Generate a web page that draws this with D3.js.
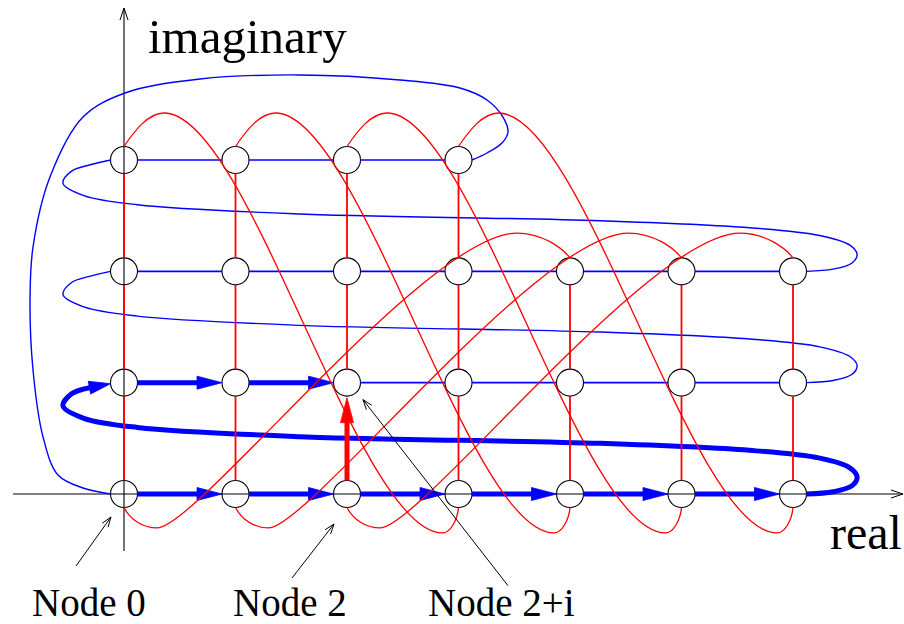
<!DOCTYPE html>
<html>
<head>
<meta charset="utf-8">
<script src="https://cdn.jsdelivr.net/npm/d3@7"></script>
<style>
  html, body { margin: 0; padding: 0; background: #fff; }
  svg { display: block; }
  text { font-family: "Liberation Serif", "Times New Roman", serif; fill: #000; }
</style>
</head>
<body>
<svg id="chart" width="904" height="624"></svg>
<script>
// Nodes of the complex grid: column = real part, row = imaginary part
const rowLengths = [7, 7, 7, 4];

// Real-direction edges drawn bold with arrowheads: [column, row] of the source node
const boldRealEdges = [[0, 0], [1, 0], [2, 0], [3, 0], [4, 0], [5, 0], [0, 1], [1, 1]];

// Imaginary-direction edge drawn as a bold red arrow: [column, row]
const boldImagEdge = [2, 0];

// Wrap-around imaginary links: [fromCol, fromRow, toCol, toRow]
const wrapDown = [[0, 3, 3, 0], [1, 3, 4, 0], [2, 3, 5, 0], [3, 3, 6, 0]];
const wrapUp = [[0, 0, 4, 2], [1, 0, 5, 2], [2, 0, 6, 2]];

// Return path from the end of a row back to the start of the next row
// (grid units: absolute column, row offset above the source row)
const returnLoop = [
  [6.36, 0.02], [6.53, 0.075], [6.575, 0.153], [6.51, 0.235], [6.24, 0.322],
  [5.61, 0.392], [4.27, 0.455], [1.58, 0.515], [0.12, 0.598], [-0.36, 0.68],
  [-0.547, 0.79], [-0.47, 0.9], [-0.31, 0.955]
];

// Closing path from the last node of the top row back to node 0 (grid units)
const closingLoop = [
  [3.256, 3.063], [3.39, 3.153], [3.444, 3.252], [3.399, 3.386], [3.256, 3.539],
  [3.013, 3.647], [2.475, 3.719], [1.578, 3.764], [0.682, 3.728], [0.009, 3.602],
  [-0.368, 3.386], [-0.664, 2.847], [-0.816, 2.219], [-0.843, 1.743], [-0.816, 1.114],
  [-0.726, 0.512], [-0.592, 0.171], [-0.368, 0.054]
];

const axisLabels = { real: "real", imag: "imaginary" };
const nodeLabels = [
  { text: "Node 0", col: 0, row: 0 },
  { text: "Node 2", col: 2, row: 0 },
  { text: "Node 2+i", col: 2, row: 1 }
];

// ---------------------------------------------------------------------------
const svg = d3.select("#chart");
const x = d3.scaleLinear().domain([0, 6]).range([124, 793]);
const y = d3.scaleLinear().domain([0, 3]).range([494, 160]);
const R = 13.5;
const BLUE = "#0000ff", RED = "#ff0000";

const nodes = [];
rowLengths.forEach((n, r) => d3.range(n).forEach(c => nodes.push({ c, r })));
const hasNode = (c, r) => r >= 0 && r < rowLengths.length && c >= 0 && c < rowLengths[r];
const isBoldReal = (c, r) => boldRealEdges.some(e => e[0] === c && e[1] === r);

const smooth = d3.line().curve(d3.curveCatmullRom.alpha(0.5));

function filledHead(g, base, tip, width, color) {
  const dx = tip[0] - base[0], dy = tip[1] - base[1];
  const len = Math.hypot(dx, dy);
  const nx = -dy / len * width / 2, ny = dx / len * width / 2;
  g.append("path")
    .attr("d", `M${base[0] + nx},${base[1] + ny}L${tip[0]},${tip[1]}L${base[0] - nx},${base[1] - ny}Z`)
    .attr("fill", color).attr("stroke", color).attr("stroke-width", 0.8);
}

function openHead(g, from, tip, len, half) {
  const dx = tip[0] - from[0], dy = tip[1] - from[1];
  const L = Math.hypot(dx, dy);
  const ux = dx / L, uy = dy / L;
  const bx = tip[0] - ux * len, by = tip[1] - uy * len;
  g.append("path")
    .attr("d", `M${bx - uy * half},${by + ux * half}L${tip[0]},${tip[1]}L${bx + uy * half},${by - ux * half}`)
    .attr("fill", "none").attr("stroke", "#000").attr("stroke-width", 1);
}

// Layers: nodes first so the axes show through them, links on top of the axes
const gNodes = svg.append("g");
const gAxes = svg.append("g");
const gBlue = svg.append("g");
const gRed = svg.append("g");
const gWrap = svg.append("g");
const gNotes = svg.append("g");

// Real-direction edges along each row
const HEAD_L = 25, HEAD_W = 13;
nodes.filter(d => hasNode(d.c + 1, d.r)).forEach(d => {
  const x1 = x(d.c) + R, x2 = x(d.c + 1) - R, yy = y(d.r);
  if (isBoldReal(d.c, d.r)) {
    gBlue.append("line")
      .attr("x1", x1).attr("y1", yy).attr("x2", x2 - HEAD_L + 3).attr("y2", yy)
      .attr("stroke", BLUE).attr("stroke-width", 5);
    filledHead(gBlue, [x2 - HEAD_L, yy], [x2, yy], HEAD_W, BLUE);
  } else {
    gBlue.append("line")
      .attr("x1", x1).attr("y1", yy).attr("x2", x2).attr("y2", yy)
      .attr("stroke", BLUE).attr("stroke-width", 1.6);
  }
});

// Return loops from the end of each full row to the start of the next
[0, 1, 2].forEach(r => {
  const last = rowLengths[r] - 1;
  const start = [x(last) + R, y(r)];
  const pts = [start].concat(returnLoop.map(p => [x(p[0]), y(r + p[1])]));
  const bold = r === 0;
  const tip = [x(0) - R, y(r + 1)];
  if (!bold) pts.push(tip);
  gBlue.append("path")
    .attr("d", smooth(pts))
    .attr("fill", "none").attr("stroke", BLUE)
    .attr("stroke-width", bold ? 5 : 1.4);
  if (bold) filledHead(gBlue, pts[pts.length - 1], [tip[0], tip[1] + 1], HEAD_W, BLUE);
});

// Closing loop from the last node back to node 0
{
  const top = rowLengths.length - 1;
  const pts = [[x(rowLengths[top] - 1) + R, y(top)]]
    .concat(closingLoop.map(p => [x(p[0]), y(p[1])]))
    .concat([[x(0) - R, y(0)]]);
  gBlue.append("path")
    .attr("d", smooth(pts))
    .attr("fill", "none").attr("stroke", BLUE).attr("stroke-width", 1.4);
}

// Imaginary-direction edges within each column
nodes.filter(d => hasNode(d.c, d.r + 1)).forEach(d => {
  const xx = x(d.c), y1 = y(d.r) - R, y2 = y(d.r + 1) + R;
  if (d.c === boldImagEdge[0] && d.r === boldImagEdge[1]) {
    gRed.append("line")
      .attr("x1", xx).attr("y1", y1).attr("x2", xx).attr("y2", y2 + 1.5 + HEAD_L - 3)
      .attr("stroke", RED).attr("stroke-width", 5);
    filledHead(gRed, [xx, y2 + 1.5 + HEAD_L], [xx, y2 + 1.5], HEAD_W, RED);
  } else {
    gRed.append("line")
      .attr("x1", xx).attr("y1", y1).attr("x2", xx).attr("y2", y2)
      .attr("stroke", RED).attr("stroke-width", 1.8);
  }
});

// Nodes
gNodes.selectAll("circle").data(nodes).join("circle")
  .attr("cx", d => x(d.c)).attr("cy", d => y(d.r)).attr("r", R)
  .attr("fill", "#fff").attr("stroke", "#000").attr("stroke-width", 1.1);

// Wrap-around imaginary links from the top row down to the real axis
wrapDown.forEach(([c0, r0, c1, r1]) => {
  const S = [x(c0), y(r0) - R];
  const P = [x(c0) + 40, y(3.422)];
  const T = [x(c1) - 16, y(-0.35)];
  const E = [x(c1), y(r1) + R];
  const p = d3.path();
  p.moveTo(S[0], S[1]);
  p.bezierCurveTo(S[0] + 10, S[1] - 15, P[0] - 16, P[1], P[0], P[1]);
  p.bezierCurveTo(P[0] + 85, P[1], T[0] - 85, T[1], T[0], T[1]);
  p.bezierCurveTo(T[0] + 8, T[1], E[0] - 1, E[1] + 12, E[0], E[1]);
  gWrap.append("path").attr("d", p.toString())
    .attr("fill", "none").attr("stroke", RED).attr("stroke-width", 1.3);
});

// Wrap-around imaginary links from the real axis up to the third row
wrapUp.forEach(([c0, r0, c1, r1]) => {
  const S = [x(c0), y(r0) + R];
  const T = [x(c0) + 33, y(-0.305)];
  const P = [x(c1) - 53, y(2.344)];
  const E = [x(c1), y(r1) - R];
  const p = d3.path();
  p.moveTo(S[0], S[1]);
  p.bezierCurveTo(S[0] + 6, S[1] + 12, T[0] - 14, T[1], T[0], T[1]);
  p.bezierCurveTo(T[0] + 40, T[1], P[0] - 90, P[1], P[0], P[1]);
  p.bezierCurveTo(P[0] + 25, P[1], E[0] - 8, E[1] - 10, E[0], E[1]);
  gWrap.append("path").attr("d", p.toString())
    .attr("fill", "none").attr("stroke", RED).attr("stroke-width", 1.3);
});

// Axes
{
  const y0 = y(0), x0 = x(0);
  gAxes.append("line").attr("x1", 13).attr("y1", y0).attr("x2", 903).attr("y2", y0)
    .attr("stroke", "#000").attr("stroke-width", 1.1);
  openHead(gAxes, [13, y0], [903, y0], 12, 4);
  gAxes.append("line").attr("x1", x0).attr("y1", 551).attr("x2", x0).attr("y2", 8)
    .attr("stroke", "#000").attr("stroke-width", 1.1);
  openHead(gAxes, [x0, 551], [x0, 8], 12, 4);

  gAxes.append("text").attr("x", 830).attr("y", 549)
    .attr("font-size", 48).text(axisLabels.real);
  gAxes.append("text").attr("x", 148).attr("y", 53)
    .attr("font-size", 49).text(axisLabels.imag);
}

// Node annotations with pointer arrows
{
  const specs = [
    { tip: [-13, 23], tail: [-48, 72], tx: -92 },
    { tip: [-13, 30], tail: [-55, 84], tx: -114 },
    { tip: [16, 17], tail: [161, 203], tx: 81 }
  ];
  nodeLabels.forEach((d, i) => {
    const s = specs[i];
    const nx = x(d.col), ny = y(d.row);
    const tip = [nx + s.tip[0], ny + s.tip[1]];
    const tail = [nx + s.tail[0], ny + s.tail[1]];
    gNotes.append("line").attr("x1", tail[0]).attr("y1", tail[1])
      .attr("x2", tip[0]).attr("y2", tip[1])
      .attr("stroke", "#000").attr("stroke-width", 1);
    openHead(gNotes, tail, tip, 10, 3.5);
    gNotes.append("text").attr("x", nx + s.tx).attr("y", 616)
      .attr("font-size", 39).text(d.text);
  });
}
</script>
</body>
</html>
